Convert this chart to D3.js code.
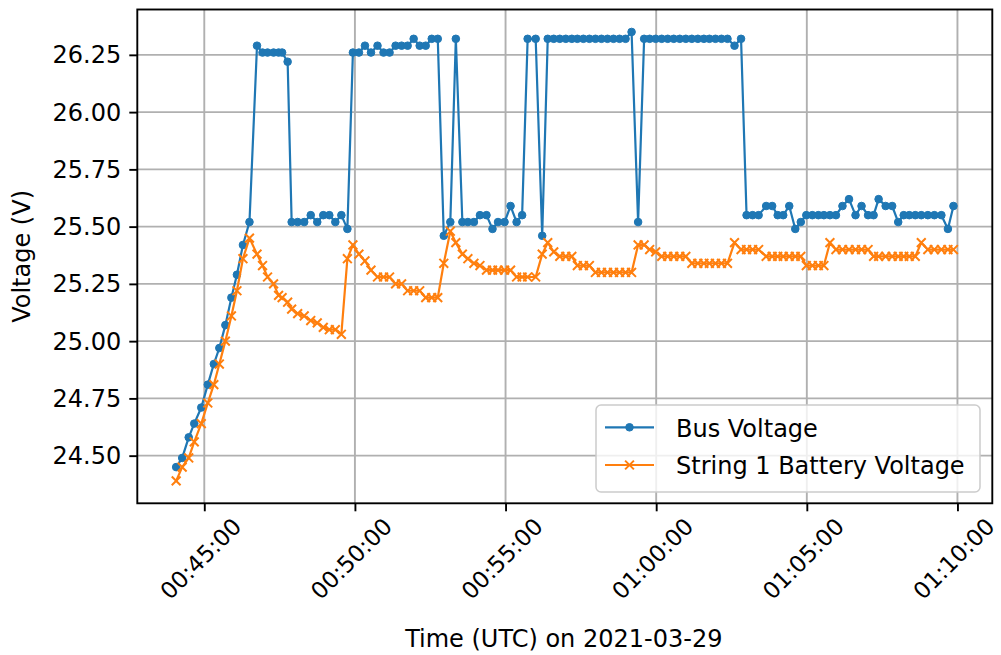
<!DOCTYPE html>
<html><head><meta charset="utf-8">
<script src="https://cdn.jsdelivr.net/npm/d3@7"></script>
<style>
body{margin:0;background:#fff}
svg{display:block}
text{font-family:"DejaVu Sans",sans-serif;fill:#000}
</style>
</head><body>
<svg id="c" width="1001" height="655"></svg>
<script>
// ---------------- DATA ----------------
const dateStr = "2021-03-29";
const times = [
"00:44:04","00:44:16","00:44:29","00:44:40","00:44:54","00:45:07","00:45:19","00:45:30","00:45:42","00:45:54","00:46:05","00:46:17","00:46:30",
"00:46:45","00:46:56","00:47:06","00:47:18","00:47:28","00:47:35","00:47:46","00:47:54","00:48:06","00:48:19","00:48:32","00:48:45","00:48:57","00:49:09","00:49:21","00:49:33","00:49:45",
"00:49:56","00:50:08","00:50:20","00:50:32","00:50:45","00:50:57","00:51:09","00:51:21","00:51:33","00:51:45","00:51:57","00:52:09","00:52:21","00:52:33","00:52:45","00:52:57","00:53:10","00:53:21",
"00:53:34","00:53:45","00:53:57","00:54:09","00:54:22","00:54:34","00:54:45","00:54:58","00:55:10","00:55:22","00:55:33","00:55:44","00:56:00","00:56:13",
"00:56:24","00:56:36","00:56:48","00:57:00","00:57:12","00:57:23","00:57:35","00:57:47","00:57:59","00:58:11","00:58:23","00:58:35","00:58:47","00:58:59","00:59:11","00:59:24","00:59:36","00:59:47","00:59:59","01:00:11","01:00:23","01:00:35","01:00:47","01:00:59","01:01:11","01:01:23","01:01:35","01:01:46","01:01:58","01:02:10","01:02:22","01:02:36","01:02:49",
"01:03:00","01:03:12","01:03:24","01:03:39","01:03:51","01:04:02","01:04:13","01:04:25","01:04:37",
"01:04:48","01:04:59","01:05:11","01:05:23","01:05:34","01:05:46","01:05:58","01:06:11","01:06:24","01:06:37","01:06:49","01:07:02","01:07:13","01:07:23","01:07:37","01:07:50","01:08:02","01:08:13","01:08:24","01:08:36","01:08:48","01:09:01","01:09:14","01:09:28","01:09:41","01:09:52"
];
const busVoltage = [
24.45,24.49,24.58,24.64,24.71,24.81,24.90,24.97,25.07,25.19,25.29,25.42,25.52,
26.29,26.26,26.26,26.26,26.26,26.26,26.22,25.52,25.52,25.52,25.55,25.52,25.55,25.55,25.52,25.55,25.49,
26.26,26.26,26.29,26.26,26.29,26.26,26.26,26.29,26.29,26.29,26.32,26.29,26.29,26.32,26.32,25.46,25.52,26.32,
25.52,25.52,25.52,25.55,25.55,25.49,25.52,25.52,25.59,25.52,25.55,26.32,26.32,25.46,
26.32,26.32,26.32,26.32,26.32,26.32,26.32,26.32,26.32,26.32,26.32,26.32,26.32,26.32,26.35,25.52,
26.32,26.32,26.32,26.32,26.32,26.32,26.32,26.32,26.32,26.32,26.32,26.32,26.32,26.32,26.32,26.29,26.32,
25.55,25.55,25.55,25.59,25.59,25.55,25.55,25.59,25.49,
25.52,25.55,25.55,25.55,25.55,25.55,25.55,25.59,25.62,25.55,25.59,25.55,25.55,25.62,25.59,25.59,25.52,25.55,25.55,25.55,25.55,25.55,25.55,25.55,25.49,25.59
];
const batteryVoltage = [
24.39,24.45,24.49,24.56,24.64,24.73,24.81,24.90,25.00,25.11,25.22,25.36,25.45,
25.38,25.33,25.28,25.25,25.20,25.19,25.17,25.14,25.12,25.11,25.09,25.08,25.06,25.05,25.05,25.03,25.36,
25.42,25.38,25.35,25.31,25.28,25.28,25.28,25.25,25.25,25.22,25.22,25.22,25.19,25.19,25.19,25.34,25.48,25.43,
25.38,25.36,25.34,25.33,25.31,25.31,25.31,25.31,25.31,25.28,25.28,25.28,25.28,25.38,
25.43,25.39,25.37,25.37,25.37,25.33,25.33,25.33,25.30,25.30,25.30,25.30,25.30,25.30,25.30,25.42,
25.42,25.40,25.39,25.37,25.37,25.37,25.37,25.37,25.34,25.34,25.34,25.34,25.34,25.34,25.34,25.43,25.40,
25.40,25.40,25.40,25.37,25.37,25.37,25.37,25.37,25.37,
25.37,25.33,25.33,25.33,25.33,25.43,25.40,25.40,25.40,25.40,25.40,25.40,25.37,25.37,25.37,25.37,25.37,25.37,25.37,25.37,25.43,25.40,25.40,25.40,25.40,25.40
];
const seriesNames = ["Bus Voltage", "String 1 Battery Voltage"];
const yTickValues = [24.50, 24.75, 25.00, 25.25, 25.50, 25.75, 26.00, 26.25];
const xTickLabels = ["00:45:00","00:50:00","00:55:00","01:00:00","01:05:00","01:10:00"];
const xAxisLabel = "Time (UTC) on 2021-03-29";
const yAxisLabel = "Voltage (V)";

// ---------------- LAYOUT ----------------
const M = {left:137.3, top:9.5, right:992.3, bottom:503.3};
const FS = 24, FSX = 23;
const C_BLUE = "#1f77b4", C_ORANGE = "#ff7f0e";
const svg = d3.select("#c");
const parse = d3.utcParse("%Y-%m-%d %H:%M:%S");
const dates = times.map(t => parse(dateStr + " " + t));
const xTicks = xTickLabels.map(t => parse(dateStr + " " + t));

const xe = d3.extent(dates), xp = (xe[1] - xe[0]) * 0.05;
const x = d3.scaleUtc().domain([new Date(+xe[0] - xp), new Date(+xe[1] + xp)]).range([M.left, M.right]);
const ye = d3.extent(busVoltage.concat(batteryVoltage)), yp = (ye[1] - ye[0]) * 0.05;
const y = d3.scaleLinear().domain([ye[0] - yp, ye[1] + yp]).range([M.bottom, M.top]);

// grid
const grid = svg.append("g").attr("stroke", "#b0b0b0").attr("stroke-width", 1.9);
grid.selectAll(".gx").data(xTicks).join("line")
  .attr("x1", d => x(d)).attr("x2", d => x(d)).attr("y1", M.top).attr("y2", M.bottom);
grid.selectAll(".gy").data(yTickValues).join("line")
  .attr("y1", d => y(d)).attr("y2", d => y(d)).attr("x1", M.left).attr("x2", M.right);

// series
const line = d3.line().x((d, i) => x(dates[i])).y(d => y(d));
function drawSeries(vals, color, marker) {
  const g = svg.append("g");
  g.append("path").attr("d", line(vals)).attr("fill", "none").attr("stroke", color)
    .attr("stroke-width", 2.2).attr("stroke-linejoin", "round").attr("stroke-linecap", "square");
  if (marker === "o") {
    g.selectAll("circle").data(vals).join("circle")
      .attr("cx", (d, i) => x(dates[i])).attr("cy", d => y(d)).attr("r", 3.8)
      .attr("fill", color).attr("stroke", color).attr("stroke-width", 1);
  } else {
    const s = 4.4;
    g.selectAll("path.m").data(vals).join("path").attr("class", "m")
      .attr("d", (d, i) => { const cx = x(dates[i]), cy = y(d);
        return `M${cx - s},${cy - s}L${cx + s},${cy + s}M${cx - s},${cy + s}L${cx + s},${cy - s}`; })
      .attr("stroke", color).attr("stroke-width", 2).attr("fill", "none");
  }
}
drawSeries(busVoltage, C_BLUE, "o");
drawSeries(batteryVoltage, C_ORANGE, "x");

// axes
const xAxis = svg.append("g").attr("transform", `translate(0,${M.bottom})`)
  .call(d3.axisBottom(x).tickValues(xTicks).tickFormat(d3.utcFormat("%H:%M:%S")).tickSize(8).tickPadding(8));
const yAxis = svg.append("g").attr("transform", `translate(${M.left},0)`)
  .call(d3.axisLeft(y).tickValues(yTickValues).tickFormat(d3.format(".2f")).tickSize(8).tickPadding(8));
[xAxis, yAxis].forEach(a => {
  a.select(".domain").remove();
  a.selectAll(".tick line").attr("stroke", "#000").attr("stroke-width", 1.9);
  a.selectAll(".tick text").attr("font-family", "DejaVu Sans").attr("fill", "#000");
});
yAxis.selectAll(".tick text").attr("font-size", FS).attr("dy", null).attr("dominant-baseline", "central");
xAxis.selectAll(".tick text").attr("font-size", FSX).each(function() {
  const t = d3.select(this);
  t.attr("dy", null).attr("y", null).attr("text-anchor", "middle").attr("dominant-baseline", "central");
  const L = this.getComputedTextLength();
  const Hb = (L + FSX * 0.35) / Math.SQRT2;
  t.attr("transform", `translate(-4,${16 + Hb / 2}) rotate(-45)`);
});

// spines
svg.append("rect").attr("x", M.left).attr("y", M.top).attr("width", M.right - M.left).attr("height", M.bottom - M.top)
  .attr("fill", "none").attr("stroke", "#000").attr("stroke-width", 1.9);

// axis labels
svg.append("text").attr("x", (M.left + M.right) / 2 - 1).attr("y", 647).attr("text-anchor", "middle")
  .attr("font-size", FS).text(xAxisLabel);
svg.append("text").attr("transform", `translate(30,${(M.top + M.bottom) / 2}) rotate(-90)`)
  .attr("text-anchor", "middle").attr("font-size", FS).text(yAxisLabel);

// legend
const lg = svg.append("g");
lg.append("rect").attr("x", 596).attr("y", 405).attr("width", 384).attr("height", 87).attr("rx", 5)
  .attr("fill", "#fff").attr("fill-opacity", 0.8).attr("stroke", "#cccccc").attr("stroke-width", 1.5);
const rows = [{name: seriesNames[0], color: C_BLUE, m: "o"}, {name: seriesNames[1], color: C_ORANGE, m: "x"}];
rows.forEach((r, i) => {
  const cy = 427.3 + i * 37.7;
  lg.append("line").attr("x1", 605).attr("x2", 654).attr("y1", cy).attr("y2", cy)
    .attr("stroke", r.color).attr("stroke-width", 2.2);
  if (r.m === "o") {
    lg.append("circle").attr("cx", 629.5).attr("cy", cy).attr("r", 3.8).attr("fill", r.color)
      .attr("stroke", r.color).attr("stroke-width", 1);
  } else {
    const s = 4.4, cx = 629.5;
    lg.append("path").attr("d", `M${cx - s},${cy - s}L${cx + s},${cy + s}M${cx - s},${cy + s}L${cx + s},${cy - s}`)
      .attr("stroke", r.color).attr("stroke-width", 2);
  }
  lg.append("text").attr("x", 676).attr("y", cy + 9.2).attr("font-size", FS).text(r.name);
});
</script>
</body></html>
